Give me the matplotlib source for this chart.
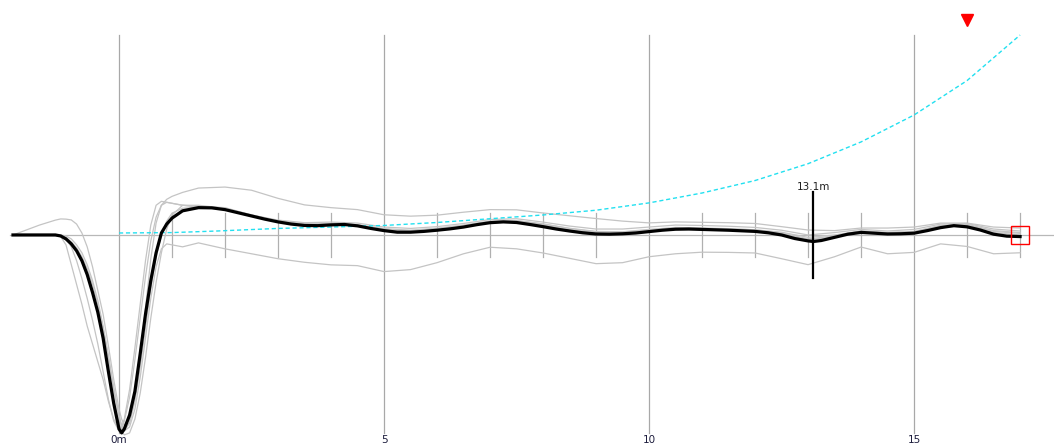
import numpy as np
import matplotlib
matplotlib.use("Agg")
import matplotlib.pyplot as plt

# x grid for the grey traces: dense through the trough, then every 0.5 m
x_head = [-2.0, -1.5, -1.2, -1.1, -1.0, -0.9, -0.8, -0.7, -0.6, -0.5, -0.4, -0.3, -0.2, -0.1,
          0.0, 0.05, 0.1, 0.2, 0.3, 0.4, 0.5, 0.6, 0.7, 0.8, 0.9, 1.0, 1.2, 1.5]
x_tail = [2.0, 2.5, 3.0, 3.5, 4.0, 4.5, 5.0, 5.5, 6.0, 6.5, 7.0, 7.5, 8.0, 8.5, 9.0, 9.5,
          10.0, 10.5, 11.0, 11.5, 12.0, 12.5, 13.0, 13.5, 14.0, 14.5, 15.0, 15.5, 16.0, 16.5, 17.0]

# mean trace (black), read at finer spacing
mean_x = [-2.0, -1.5, -1.2, -1.1, -1.0, -0.9, -0.8, -0.7, -0.6, -0.5, -0.4, -0.3, -0.2, -0.1,
          0.0, 0.05, 0.1, 0.2, 0.3, 0.4, 0.5, 0.6, 0.7, 0.8, 0.9, 1.0, 1.2, 1.5,
          1.75, 2.0, 2.25, 2.5, 2.75, 3.0, 3.25, 3.5, 3.75, 4.0, 4.25, 4.5, 4.75, 5.0, 5.25, 5.5,
          5.75, 6.0, 6.25, 6.5, 6.75, 7.0, 7.25, 7.5, 7.75, 8.0, 8.25, 8.5, 8.75, 9.0, 9.25, 9.5,
          9.75, 10.0, 10.25, 10.5, 10.75, 11.0, 11.25, 11.5, 11.75, 12.0, 12.25, 12.5, 12.75, 13.0,
          13.1, 13.25, 13.5, 13.75, 14.0, 14.25, 14.5, 14.75, 15.0, 15.25, 15.5, 15.75, 16.0,
          16.25, 16.5, 16.75, 17.0]
mean_y = [0, 0, 0, -0.005, -0.02, -0.045, -0.08, -0.13, -0.2, -0.29, -0.39, -0.52, -0.69, -0.85,
          -0.98, -1.0, -0.98, -0.91, -0.79, -0.6, -0.4, -0.23, -0.09, 0.01, 0.055, 0.085, 0.122, 0.138,
          0.137, 0.128, 0.112, 0.096, 0.08, 0.066, 0.055, 0.048, 0.047, 0.051, 0.053, 0.046, 0.033,
          0.022, 0.014, 0.014, 0.018, 0.024, 0.031, 0.04, 0.052, 0.062, 0.066, 0.063, 0.053, 0.042,
          0.03, 0.02, 0.011, 0.005, 0.004, 0.006, 0.01, 0.017, 0.024, 0.029, 0.03, 0.028, 0.026,
          0.024, 0.021, 0.018, 0.011, 0.0, -0.018, -0.03, -0.033, -0.028, -0.012, 0.004, 0.013,
          0.009, 0.005, 0.006, 0.009, 0.022, 0.037, 0.047, 0.041, 0.025, 0.004, -0.006, -0.008]

# individual traces (grey)
upper_head = [0, 0.05, 0.075, 0.081, 0.08, 0.076, 0.055, 0.01, -0.06, -0.16, -0.28, -0.4, -0.56, -0.73,
              -0.88, -0.93, -0.96, -0.95, -0.82, -0.62, -0.37, -0.12, 0.06, 0.15, 0.18, 0.195, 0.215, 0.237]
upper_tail = [0.242, 0.226, 0.185, 0.152, 0.138, 0.128, 0.102, 0.095, 0.1, 0.115, 0.128, 0.127, 0.111,
              0.097, 0.083, 0.07, 0.061, 0.066, 0.064, 0.062, 0.058, 0.042, 0.025, 0.022, 0.035,
              0.035, 0.04, 0.06, 0.06, 0.04, 0.035]

lower_head = [0, 0, 0, 0, -0.005, -0.02, -0.05, -0.09, -0.15, -0.23, -0.33, -0.46, -0.61, -0.77,
              -0.91, -0.96, -0.99, -0.97, -0.88, -0.72, -0.52, -0.32, -0.16, -0.07, -0.045, -0.05, -0.06, -0.04]
lower_tail = [-0.07, -0.095, -0.12, -0.138, -0.151, -0.155, -0.185, -0.175, -0.14, -0.095, -0.062,
              -0.07, -0.091, -0.118, -0.145, -0.14, -0.11, -0.095, -0.087, -0.088, -0.091, -0.12,
              -0.15, -0.11, -0.061, -0.095, -0.088, -0.045, -0.058, -0.095, -0.09]

near1_head = [0, 0, -0.003, -0.008, -0.05, -0.15, -0.25, -0.35, -0.46, -0.55, -0.64, -0.73, -0.84, -0.93,
              -0.98, -0.97, -0.93, -0.78, -0.57, -0.35, -0.13, 0.05, 0.15, 0.17, 0.165, 0.16, 0.15, 0.14]
near1_tail = [0.13, 0.1, 0.075, 0.062, 0.065, 0.06, 0.04, 0.033, 0.042, 0.058, 0.078, 0.082, 0.065,
              0.045, 0.03, 0.03, 0.04, 0.05, 0.048, 0.044, 0.038, 0.024, 0.0, 0.012, 0.028,
              0.02, 0.028, 0.055, 0.058, 0.03, 0.02]

near2_head = [0, 0, 0, -0.005, -0.02, -0.06, -0.13, -0.22, -0.32, -0.43, -0.55, -0.69, -0.83, -0.94,
              -0.99, -0.98, -0.94, -0.82, -0.63, -0.42, -0.21, -0.03, 0.09, 0.15, 0.165, 0.16, 0.15, 0.145]
near2_tail = [0.138, 0.1, 0.07, 0.055, 0.057, 0.052, 0.032, 0.024, 0.034, 0.05, 0.07, 0.072, 0.055,
              0.034, 0.018, 0.016, 0.028, 0.038, 0.035, 0.032, 0.026, 0.01, -0.02, -0.005, 0.02,
              0.012, 0.016, 0.045, 0.05, 0.018, 0.008]

near3_head = [0, 0, 0, -0.003, -0.012, -0.035, -0.065, -0.11, -0.17, -0.25, -0.35, -0.47, -0.62, -0.78,
              -0.92, -0.97, -0.99, -0.95, -0.84, -0.67, -0.47, -0.27, -0.11, 0.0, 0.07, 0.11, 0.135, 0.14]
near3_tail = [0.13, 0.098, 0.07, 0.05, 0.052, 0.048, 0.026, 0.017, 0.027, 0.042, 0.064, 0.068, 0.05,
              0.026, 0.01, 0.01, 0.02, 0.032, 0.031, 0.027, 0.022, 0.006, -0.024, -0.01, 0.014,
              0.008, 0.012, 0.04, 0.045, 0.012, 0.0]

near4_head = [0, 0, 0, -0.004, -0.015, -0.04, -0.07, -0.12, -0.19, -0.28, -0.39, -0.53, -0.68, -0.83,
              -0.95, -0.99, -1.01, -1.0, -0.93, -0.8, -0.62, -0.42, -0.24, -0.09, 0.03, 0.1, 0.15, 0.15]
near4_tail = [0.135, 0.102, 0.072, 0.055, 0.055, 0.05, 0.028, 0.02, 0.03, 0.046, 0.068, 0.072, 0.056,
              0.032, 0.016, 0.014, 0.024, 0.036, 0.034, 0.03, 0.026, 0.014, -0.012, 0.0, 0.02,
              0.012, 0.018, 0.048, 0.054, 0.022, 0.012]

# cyan reference curve
ref_x = [0.0, 1.0, 1.85, 3.0, 4.0, 5.0, 6.0, 7.0, 8.0, 9.0, 10.0, 11.0, 12.0, 13.0, 14.0, 15.0, 16.0, 17.0]
ref_y = [0.01, 0.012, 0.02, 0.033, 0.04, 0.048, 0.063, 0.082, 0.101, 0.125, 0.162, 0.212, 0.275,
         0.36, 0.47, 0.606, 0.78, 1.01]

grid_x = [0, 5, 10, 15]
grid_labels = ["0m", "5", "10", "15"]
minor_x = [1, 2, 3, 4, 6, 7, 8, 9, 11, 12, 13, 14, 16, 17]
cursor_x = 13.1
cursor_label = "13.1m"
flag_x, flag_y = 16.0, 1.086
end_x, end_y = 17.0, 0.0

x_all = np.array(x_head + x_tail)

fig = plt.figure(figsize=(10.54, 4.44), dpi=100)
ax = fig.add_axes([0, 0, 1, 1])
ax.set_xlim(-2.245, 17.64)
ax.set_ylim(-1.056, 1.187)
ax.axis("off")

# grid and baseline
for gx in grid_x:
    ax.plot([gx, gx], [-1.0, 1.01], color="#a8a8a8", lw=0.9, zorder=1)
ax.plot([-2.06, 17.64], [0, 0], color="#b8b8b8", lw=0.9, zorder=1)
for mx in minor_x:
    ax.plot([mx, mx], [-0.111, 0.111], color="#b0b0b0", lw=0.9, zorder=1)

for gx, lab in zip(grid_x, grid_labels):
    ax.text(gx, -1.012, lab, ha="center", va="top", fontsize=7.5, color="#1c1c3c")

for head, tail in [(upper_head, upper_tail), (lower_head, lower_tail), (near1_head, near1_tail),
                   (near2_head, near2_tail), (near3_head, near3_tail), (near4_head, near4_tail)]:
    ax.plot(x_all, head + tail, color="#c4c4c4", lw=0.9, zorder=2)

ax.plot(ref_x, ref_y, color="#22e0f0", lw=1.0, linestyle=(0, (3, 2)), zorder=3)

ax.plot(mean_x, mean_y, color="black", lw=2.3, zorder=4, solid_joinstyle="round")

# cursor
ax.plot([cursor_x, cursor_x], [-0.217, 0.217], color="black", lw=1.6, zorder=5)
ax.text(cursor_x, 0.228, cursor_label, ha="center", va="baseline", fontsize=7.5, color="#202020")

ax.plot([flag_x], [flag_y], marker="v", color="red", ms=8, zorder=5)
ax.plot([end_x], [end_y], marker="s", ms=13.5, mfc="none", mec="red", mew=1.0, zorder=6)

fig.savefig("out.png", dpi=100)
